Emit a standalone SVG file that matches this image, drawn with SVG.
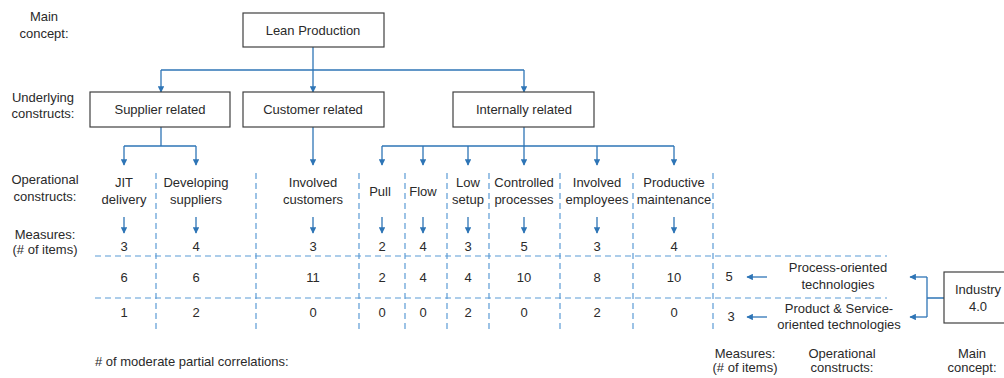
<svg xmlns="http://www.w3.org/2000/svg" width="1004" height="378" viewBox="0 0 1004 378">
  <defs>
    <style>
      text { font-family: "Liberation Sans", Arial, sans-serif; font-size: 13px; fill: #2a2a2a; text-anchor: middle; }
      .box { fill: #ffffff; stroke: #404040; stroke-width: 1.2; }
      .conn { fill: none; stroke: #2E75B6; stroke-width: 1.3; }
      .dash { fill: none; stroke: #5B9BD5; stroke-width: 1.2; stroke-dasharray: 6 4; }
      .left { text-anchor: start; }
    </style>
    <marker id="arr" viewBox="0 0 10 10" refX="9" refY="5" markerWidth="5" markerHeight="5" orient="auto" markerUnits="strokeWidth">
      <path d="M0,0 L10,5 L0,10 z" fill="#2E75B6"/>
    </marker>
  </defs>

  <rect width="1004" height="378" fill="#ffffff"/>

  <!-- row labels (left side) -->
  <g id="row-labels">
    <text x="44" y="21">Main</text>
    <text x="44" y="38">concept:</text>
    <text x="43" y="102">Underlying</text>
    <text x="43" y="118">constructs:</text>
    <text x="45" y="184">Operational</text>
    <text x="45" y="201">constructs:</text>
    <text x="45" y="239">Measures:</text>
    <text x="45" y="254">(# of items)</text>
    <text class="left" x="95" y="366"># of moderate partial correlations:</text>
  </g>

  <!-- dashed grid -->
  <g id="grid">
    <line class="dash" x1="95" y1="256" x2="887" y2="256"/>
    <line class="dash" x1="95" y1="298" x2="887" y2="298"/>
    <line class="dash" x1="156" y1="173" x2="156" y2="333"/>
    <line class="dash" x1="256" y1="173" x2="256" y2="333"/>
    <line class="dash" x1="359" y1="173" x2="359" y2="333"/>
    <line class="dash" x1="405" y1="173" x2="405" y2="333"/>
    <line class="dash" x1="447" y1="173" x2="447" y2="333"/>
    <line class="dash" x1="489" y1="173" x2="489" y2="333"/>
    <line class="dash" x1="560" y1="173" x2="560" y2="333"/>
    <line class="dash" x1="633" y1="173" x2="633" y2="333"/>
    <line class="dash" x1="713" y1="173" x2="713" y2="333"/>
  </g>

  <!-- connectors -->
  <g id="connectors">
    <!-- Lean Production to underlying constructs -->
    <path class="conn" d="M313,47 V70"/>
    <path class="conn" d="M161,70 H524"/>
    <path class="conn" d="M161,70 V92" marker-end="url(#arr)"/>
    <path class="conn" d="M313,70 V92" marker-end="url(#arr)"/>
    <path class="conn" d="M524,70 V92" marker-end="url(#arr)"/>
    <!-- supplier related -->
    <path class="conn" d="M161,127 V146 M124,146 H196"/>
    <path class="conn" d="M124,146 V165" marker-end="url(#arr)"/>
    <path class="conn" d="M196,146 V165" marker-end="url(#arr)"/>
    <!-- customer related -->
    <path class="conn" d="M313,127 V165" marker-end="url(#arr)"/>
    <!-- internally related -->
    <path class="conn" d="M524,127 V146 M382,146 H674"/>
    <path class="conn" d="M382,146 V165" marker-end="url(#arr)"/>
    <path class="conn" d="M423,146 V165" marker-end="url(#arr)"/>
    <path class="conn" d="M468,146 V165" marker-end="url(#arr)"/>
    <path class="conn" d="M524,146 V165" marker-end="url(#arr)"/>
    <path class="conn" d="M597,146 V165" marker-end="url(#arr)"/>
    <path class="conn" d="M674,146 V165" marker-end="url(#arr)"/>
    <!-- operational constructs to measures -->
    <path class="conn" d="M124,217 V233" marker-end="url(#arr)"/>
    <path class="conn" d="M196,217 V233" marker-end="url(#arr)"/>
    <path class="conn" d="M313,217 V233" marker-end="url(#arr)"/>
    <path class="conn" d="M382,217 V233" marker-end="url(#arr)"/>
    <path class="conn" d="M423,217 V233" marker-end="url(#arr)"/>
    <path class="conn" d="M468,217 V233" marker-end="url(#arr)"/>
    <path class="conn" d="M524,217 V233" marker-end="url(#arr)"/>
    <path class="conn" d="M597,217 V233" marker-end="url(#arr)"/>
    <path class="conn" d="M674,217 V233" marker-end="url(#arr)"/>
    <!-- Industry 4.0 -->
    <path class="conn" d="M944,298 H927 M927,277 V317"/>
    <path class="conn" d="M927,277 H910" marker-end="url(#arr)"/>
    <path class="conn" d="M927,317 H910" marker-end="url(#arr)"/>
    <path class="conn" d="M767,277 H747" marker-end="url(#arr)"/>
    <path class="conn" d="M767,317 H747" marker-end="url(#arr)"/>
  </g>

  <!-- main concept -->
  <g id="lean-production">
    <rect class="box" x="243" y="13" width="141" height="34"/>
    <text x="313" y="35">Lean Production</text>
  </g>

  <!-- underlying constructs -->
  <g id="supplier-related">
    <rect class="box" x="90" y="92" width="140" height="35"/>
    <text x="160" y="114">Supplier related</text>
  </g>
  <g id="customer-related">
    <rect class="box" x="243" y="92" width="141" height="35"/>
    <text x="313" y="114">Customer related</text>
  </g>
  <g id="internally-related">
    <rect class="box" x="453" y="92" width="141" height="35"/>
    <text x="524" y="114">Internally related</text>
  </g>

  <!-- operational constructs -->
  <g id="jit-delivery">
    <text x="124" y="187">JIT</text>
    <text x="124" y="204">delivery</text>
  </g>
  <g id="developing-suppliers">
    <text x="196" y="187">Developing</text>
    <text x="196" y="204">suppliers</text>
  </g>
  <g id="involved-customers">
    <text x="313" y="187">Involved</text>
    <text x="313" y="204">customers</text>
  </g>
  <g id="pull">
    <text x="380" y="196">Pull</text>
  </g>
  <g id="flow">
    <text x="423" y="196">Flow</text>
  </g>
  <g id="low-setup">
    <text x="468" y="187">Low</text>
    <text x="468" y="204">setup</text>
  </g>
  <g id="controlled-processes">
    <text x="524" y="187">Controlled</text>
    <text x="524" y="204">processes</text>
  </g>
  <g id="involved-employees">
    <text x="597" y="187">Involved</text>
    <text x="597" y="204">employees</text>
  </g>
  <g id="productive-maintenance">
    <text x="674" y="187">Productive</text>
    <text x="674" y="204">maintenance</text>
  </g>

  <!-- measures (# of items) -->
  <g id="measures">
    <text x="124" y="251">3</text>
    <text x="196" y="251">4</text>
    <text x="313" y="251">3</text>
    <text x="382" y="251">2</text>
    <text x="423" y="251">4</text>
    <text x="468" y="251">3</text>
    <text x="524" y="251">5</text>
    <text x="597" y="251">3</text>
    <text x="674" y="251">4</text>
  </g>

  <!-- correlations with process-oriented technologies -->
  <g id="process-row">
    <text x="124" y="282">6</text>
    <text x="196" y="282">6</text>
    <text x="313" y="282">11</text>
    <text x="382" y="282">2</text>
    <text x="423" y="282">4</text>
    <text x="468" y="282">4</text>
    <text x="524" y="282">10</text>
    <text x="597" y="282">8</text>
    <text x="674" y="282">10</text>
    <text x="729" y="281">5</text>
  </g>

  <!-- correlations with product & service-oriented technologies -->
  <g id="product-row">
    <text x="124" y="317">1</text>
    <text x="196" y="317">2</text>
    <text x="313" y="317">0</text>
    <text x="382" y="317">0</text>
    <text x="423" y="317">0</text>
    <text x="468" y="317">2</text>
    <text x="524" y="317">0</text>
    <text x="597" y="317">2</text>
    <text x="674" y="317">0</text>
    <text x="731" y="321">3</text>
  </g>

  <!-- Industry 4.0 side -->
  <g id="process-oriented">
    <text x="838" y="272">Process-oriented</text>
    <text x="838" y="289">technologies</text>
  </g>
  <g id="product-service-oriented">
    <text x="839" y="313">Product &amp; Service-</text>
    <text x="839" y="329">oriented technologies</text>
  </g>
  <g id="industry-4-0">
    <rect class="box" x="944" y="272" width="70" height="51"/>
    <text x="978" y="294">Industry</text>
    <text x="978" y="311">4.0</text>
  </g>

  <g id="bottom-labels">
    <text x="745" y="358">Measures:</text>
    <text x="745" y="372">(# of items)</text>
    <text x="842" y="358">Operational</text>
    <text x="842" y="372">constructs:</text>
    <text x="972" y="358">Main</text>
    <text x="972" y="372">concept:</text>
  </g>
</svg>
